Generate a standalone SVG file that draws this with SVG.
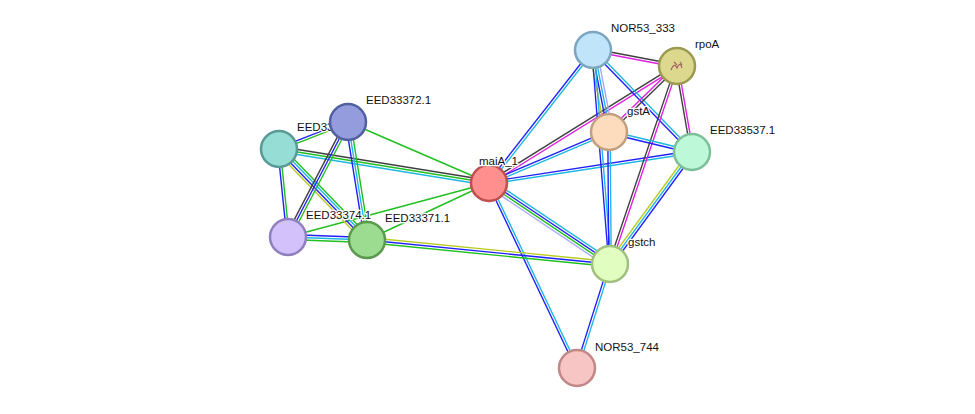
<svg xmlns="http://www.w3.org/2000/svg" width="975" height="414" viewBox="0 0 975 414">
<style>
line{stroke-width:1.4;fill:none}
.b{stroke:#2020ff}.c{stroke:#20b8e0}.g{stroke:#20c020}.k{stroke:#404040}.m{stroke:#e020e0}.y{stroke:#b8cc20}.h{stroke:#a8a8ff}
circle{stroke-width:2.5}
text{font-family:"Liberation Sans",Arial,sans-serif;font-size:11.5px;fill:#111;stroke:#fff;stroke-width:2.5px;paint-order:stroke;stroke-linejoin:round}
</style>
<rect width="975" height="414" fill="#fff"/>
<g id="edges">
<line class="c" x1="490" y1="183.8" x2="594" y2="50.8"/><line class="b" x1="488" y1="182.2" x2="592" y2="49.2"/>
<line class="m" x1="489.7" y1="184.1" x2="677.7" y2="67.1"/><line class="k" x1="488.3" y1="181.9" x2="676.3" y2="64.9"/>
<line class="c" x1="489.5" y1="184.2" x2="609.5" y2="133.2"/><line class="b" x1="488.5" y1="181.8" x2="608.5" y2="130.8"/>
<line class="c" x1="489.2" y1="184.2" x2="692.2" y2="153.2"/><line class="b" x1="488.8" y1="181.8" x2="691.8" y2="150.8"/>
<line class="c" x1="491.1" y1="179.9" x2="612.1" y2="260.9"/><line class="b" x1="489.7" y1="182" x2="610.7" y2="263"/><line class="g" x1="488.3" y1="184" x2="609.3" y2="265"/><line class="h" x1="486.9" y1="186.1" x2="607.9" y2="267.1"/>
<line class="b" x1="487.9" y1="183.5" x2="575.9" y2="368.5"/><line class="c" x1="490.1" y1="182.5" x2="578.1" y2="367.5"/>
<line class="g" x1="489" y1="183" x2="348" y2="122"/>
<line class="k" x1="489.4" y1="180.5" x2="279.4" y2="146.5"/><line class="g" x1="489" y1="183" x2="279" y2="149"/><line class="c" x1="488.6" y1="185.5" x2="278.6" y2="151.5"/>
<line class="g" x1="489" y1="183" x2="288" y2="237"/>
<line class="g" x1="489" y1="183" x2="367" y2="240"/>
<line class="b" x1="278.5" y1="147.8" x2="347.5" y2="120.8"/><line class="g" x1="279.5" y1="150.2" x2="348.5" y2="123.2"/>
<line class="g" x1="280.2" y1="148.9" x2="289.2" y2="236.9"/><line class="b" x1="277.8" y1="149.1" x2="286.8" y2="237.1"/>
<line class="y" x1="276.3" y1="151.6" x2="364.3" y2="242.6"/><line class="b" x1="278.1" y1="149.9" x2="366.1" y2="240.9"/><line class="c" x1="279.9" y1="148.1" x2="367.9" y2="239.1"/><line class="g" x1="281.7" y1="146.4" x2="369.7" y2="237.4"/>
<line class="k" x1="345.8" y1="120.9" x2="285.8" y2="235.9"/><line class="b" x1="348" y1="122" x2="288" y2="237"/><line class="g" x1="350.2" y1="123.2" x2="290.2" y2="238.2"/>
<line class="b" x1="345.6" y1="122.4" x2="364.6" y2="240.4"/><line class="c" x1="348" y1="122" x2="367" y2="240"/><line class="g" x1="350.5" y1="121.6" x2="369.5" y2="239.6"/>
<line class="b" x1="288" y1="234.5" x2="367" y2="237.5"/><line class="c" x1="288" y1="237" x2="367" y2="240"/><line class="g" x1="288" y1="239.5" x2="367" y2="242.5"/>
<line class="y" x1="367.3" y1="237.5" x2="610.3" y2="261.5"/><line class="b" x1="367" y1="240" x2="610" y2="264"/><line class="g" x1="366.8" y1="242.5" x2="609.8" y2="266.5"/>
<line class="m" x1="592.8" y1="51.2" x2="676.8" y2="67.2"/><line class="k" x1="593.2" y1="48.8" x2="677.2" y2="64.8"/>
<line class="y" x1="589.3" y1="50.7" x2="605.3" y2="132.7"/><line class="b" x1="591.8" y1="50.2" x2="607.8" y2="132.2"/><line class="c" x1="594.2" y1="49.8" x2="610.2" y2="131.8"/><line class="h" x1="596.7" y1="49.3" x2="612.7" y2="131.3"/>
<line class="b" x1="592.1" y1="50.9" x2="691.1" y2="152.9"/><line class="c" x1="593.9" y1="49.1" x2="692.9" y2="151.1"/>
<line class="b" x1="591.8" y1="50" x2="608.8" y2="264"/><line class="c" x1="594.2" y1="50" x2="611.2" y2="264"/>
<line class="m" x1="676.1" y1="65.1" x2="608.1" y2="131.1"/><line class="k" x1="677.9" y1="66.9" x2="609.9" y2="132.9"/>
<line class="k" x1="675.8" y1="66.2" x2="690.8" y2="152.2"/><line class="m" x1="678.2" y1="65.8" x2="693.2" y2="151.8"/>
<line class="k" x1="675.8" y1="65.6" x2="608.8" y2="263.6"/><line class="m" x1="678.2" y1="66.4" x2="611.2" y2="264.4"/>
<line class="c" x1="609.3" y1="130.8" x2="692.3" y2="150.8"/><line class="b" x1="608.7" y1="133.2" x2="691.7" y2="153.2"/>
<line class="b" x1="607.8" y1="132" x2="608.8" y2="264"/><line class="c" x1="610.2" y1="132" x2="611.2" y2="264"/>
<line class="y" x1="690" y1="150.5" x2="608" y2="262.5"/><line class="c" x1="692" y1="152" x2="610" y2="264"/><line class="b" x1="694" y1="153.5" x2="612" y2="265.5"/>
<line class="b" x1="608.8" y1="263.6" x2="575.8" y2="367.6"/><line class="c" x1="611.2" y1="264.4" x2="578.2" y2="368.4"/>
</g>
<g id="EED33373"><circle cx="279" cy="149" r="18" fill="#96ddd5" stroke="#5a9a94"/><text x="297" y="131">EED33373.1</text></g>
<g id="EED33372"><circle cx="348" cy="122" r="18" fill="#949cde" stroke="#5060a0"/><text x="366" y="104">EED33372.1</text></g>
<g id="EED33374"><circle cx="288" cy="237" r="18" fill="#d2c1fa" stroke="#9080c0"/><text x="306" y="219">EED33374.1</text></g>
<g id="EED33371"><circle cx="367" cy="240" r="18" fill="#9cdc90" stroke="#5a9a50"/><text x="385" y="222">EED33371.1</text></g>
<g id="maiA_1"><circle cx="489" cy="183" r="18" fill="#ff8f8f" stroke="#c05050"/><text x="479" y="165">maiA_1</text></g>
<g id="NOR53_333"><circle cx="593" cy="50" r="18" fill="#c0e5fa" stroke="#7ca5c0"/><text x="611" y="32">NOR53_333</text></g>
<g id="rpoA"><circle cx="677" cy="66" r="18" fill="#dcd98f" stroke="#9a9a50"/><path d="M671 70 q3-8 6-2 q3-7 5 0 M674 62 l3 3 M680 62 l2 3" stroke="#a06060" stroke-width="1.2" fill="none"/><text x="695" y="48">rpoA</text></g>
<g id="gstA"><circle cx="609" cy="132" r="18" fill="#fddcbd" stroke="#c0a080"/><text x="627" y="115">gstA</text></g>
<g id="EED33537"><circle cx="692" cy="152" r="18" fill="#bdf8d8" stroke="#7dbf98"/><text x="710" y="134">EED33537.1</text></g>
<g id="gstch"><circle cx="610" cy="264" r="18" fill="#e2fdc0" stroke="#a0c080"/><text x="628" y="246">gstch</text></g>
<g id="NOR53_744"><circle cx="577" cy="368" r="18" fill="#f8c5c5" stroke="#c08888"/><text x="595" y="351">NOR53_744</text></g>
</svg>
